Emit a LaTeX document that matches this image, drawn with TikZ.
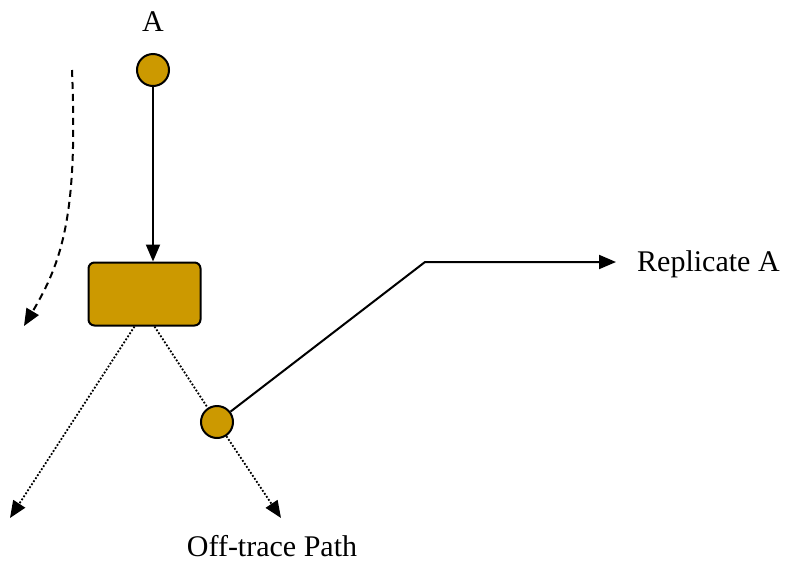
\documentclass[tikz,border=0pt]{standalone}
\usepackage{fontspec}
\setmainfont{Liberation Serif}
\usetikzlibrary{arrows.meta}
\definecolor{gold}{HTML}{CC9900}
\begin{document}
\begin{tikzpicture}[x=1pt,y=-1pt,
  dot/.style={circle,draw,line width=2pt,fill=gold,minimum size=32pt,inner sep=0pt},
  blk/.style={rectangle,rounded corners=6pt,draw,line width=2pt,fill=gold,minimum width=112pt,minimum height=63pt,inner sep=0pt},
  lbl/.style={font=\fontsize{30}{35}\selectfont,inner sep=0pt},
  tip/.style={-{Triangle[length=17pt,width=14pt]}},
  solidline/.style={line width=2pt},
  dotline/.style={line width=1.8pt,dash pattern=on 1.8pt off 1.8pt},
  dashline/.style={line width=2pt,dash pattern=on 7pt off 5pt}]
\useasboundingbox (0,0) rectangle (793,563);

% nodes
\node[lbl] (la) at (153,22) {A};
\node[dot] (a) at (153,70) {};
\node[blk] (b) at (144.5,294) {};
\node[dot] (c) at (217,422) {};
\node[lbl,anchor=west] (rep) at (637,264) {Replicate A};
\node[lbl,anchor=base] (off) at (272,556) {Off-trace Path};

% free ends
\coordinate (tipL) at (10,518);
\coordinate (tipR) at (281,518);
\coordinate (bend) at (425,262);
\coordinate (tipRep) at (616,262);
\coordinate (ds) at (72,70);
\coordinate (de) at (24,326);

% connectors
\draw[solidline,tip] (a) -- (a |- b.north);
\draw[dotline,tip] ([xshift=-10pt]b.south) -- (tipL);
\draw[dotline] ([xshift=10pt]b.south) -- (c);
\draw[dotline,tip] (c) -- (tipR);
\draw[solidline,tip] (c) -- (bend) -- (tipRep);
\draw[dashline,tip] (ds) .. controls (78,215) and (62,262) .. (de);
\end{tikzpicture}
\end{document}
